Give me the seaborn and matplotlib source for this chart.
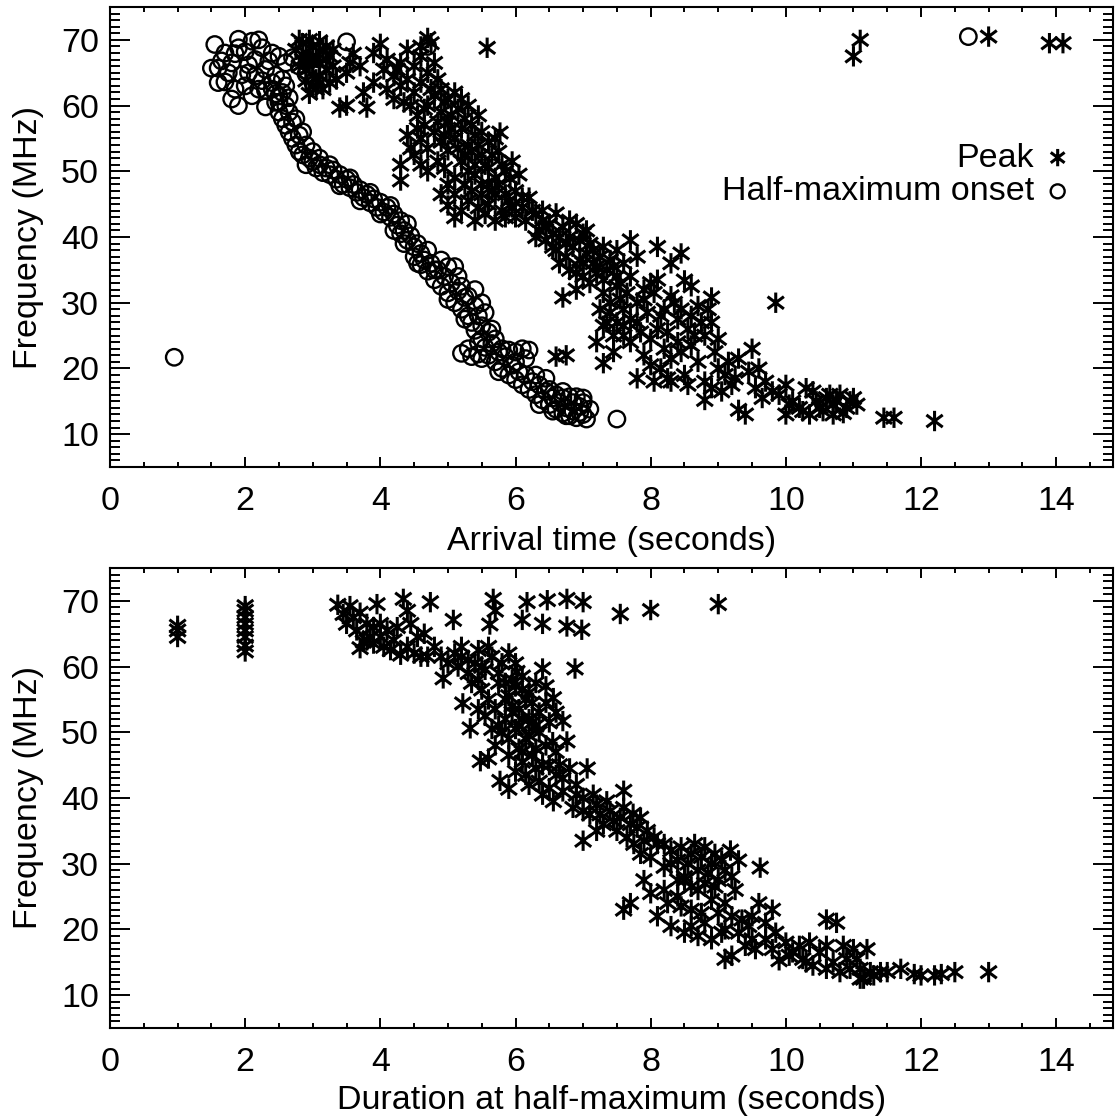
import numpy as np
import pandas as pd
import matplotlib
matplotlib.use("Agg")
import matplotlib.pyplot as plt
from matplotlib.path import Path
from matplotlib.ticker import MultipleLocator
import seaborn as sns

# ---------------- data ----------------
# Top panel: half-maximum onset arrival times (circles)
onset_t = [1.55, 1.6, 1.65, 1.7, 1.75, 1.8, 1.85, 1.9, 1.95, 2.0, 2.05, 2.1, 2.15, 2.2, 2.25, 2.3,
           2.35, 2.4, 2.45, 2.5, 2.55, 2.6, 2.7, 2.8, 1.6, 1.7, 1.8, 1.9, 2.0, 2.1, 2.2, 2.3, 2.4,
           2.5, 1.5, 1.9, 2.15, 2.3, 2.6, 2.9, 3.0, 3.5, 4.7, 1.85, 2.05, 2.25, 2.45, 2.65,
           2.4, 2.45, 2.5, 2.5, 2.55, 2.6, 2.6, 2.65, 2.7, 2.7, 2.75, 2.8, 2.8, 2.85, 2.9, 2.95,
           3.0, 3.05, 3.1, 3.15, 3.2, 3.25, 3.3, 3.35, 3.4, 3.45, 3.5, 3.55, 3.6, 3.65, 3.7, 3.75,
           3.8, 3.85, 3.9, 3.95, 4.0, 4.05, 4.1, 4.15, 4.2, 4.25, 4.3, 4.3, 4.35, 4.4, 4.45, 4.5,
           4.5, 4.55, 4.6, 4.6, 4.65, 4.7, 4.75, 4.8, 4.85, 4.9, 4.95, 5.0, 5.0, 5.05, 5.1, 5.1,
           5.15, 5.2, 5.25, 5.3, 5.3, 5.35, 5.4, 5.4, 5.45, 5.5, 5.5, 5.55, 5.6, 5.6, 5.65, 5.7,
           5.2, 5.3, 5.35, 5.45, 5.75, 5.8, 5.85, 5.9, 5.9, 5.95, 6.0, 6.0, 6.05, 6.1, 6.1, 6.15,
           6.2, 6.2, 6.25, 6.3, 6.35, 6.4, 6.45, 6.5, 6.5, 6.55, 6.6, 6.6, 6.65, 6.7, 6.7, 6.75,
           6.8, 6.8, 6.85, 6.9, 6.9, 6.95, 7.0, 7.0, 7.05, 7.1, 7.5, 0.95, 12.7,
           2.55, 2.65, 2.75, 2.85, 2.9, 3.0, 3.1, 3.25, 3.4, 3.55, 3.7, 3.85, 4.0, 4.15, 4.2,
           4.35, 4.4, 4.55, 4.7, 4.8, 4.9, 5.0, 5.15, 5.2, 5.25, 5.4, 5.45, 5.5, 5.55, 5.65,
           5.7, 5.5, 5.8, 5.75, 6.0, 6.15, 6.3, 6.35, 6.45, 6.55, 6.7, 6.85, 6.75, 6.95, 7.0]
onset_f = [69.3, 63.5, 66.8, 68.0, 65.0, 66.5, 67.9, 70.1, 64.7, 68.2, 66.2, 69.8, 64.5, 70.0, 68.8, 65.5,
           66.8, 68.0, 61.8, 67.5, 64.0, 66.5, 67.3, 66.0, 65.7, 63.6, 61.0, 60.0, 63.0, 61.5, 62.5, 62.3, 63.5,
           60.5, 65.7, 68.8, 67.0, 59.8, 63.0, 64.8, 63.5, 69.7, 69.0, 62.5, 65.0, 63.8, 64.6, 61.2,
           62.5, 60.5, 61.5, 59.0, 58.0, 60.0, 57.0, 56.0, 57.5, 55.0, 54.0, 55.5, 53.0, 52.5, 54.0, 52.0,
           51.5, 50.5, 52.0, 49.8, 50.5, 49.5, 50.2, 48.8, 49.5, 48.0, 48.8, 47.5, 48.0, 46.8, 47.2, 46.0,
           46.5, 45.2, 45.8, 44.5, 45.3, 43.8, 44.5, 43.0, 43.5, 41.8, 42.5, 40.5, 41.0, 39.5, 40.2, 38.5,
           37.0, 39.0, 37.5, 35.8, 36.5, 34.8, 36.0, 33.5, 35.0, 32.5, 34.0, 35.5, 31.5, 33.0, 35.5, 30.0,
           31.8, 29.0, 30.8, 28.0, 31.0, 27.0, 29.5, 25.8, 28.0, 26.5, 24.5, 23.2, 25.5, 22.0, 23.8, 21.0,
           22.3, 23.0, 21.8, 22.2, 22.5, 20.0, 21.8, 19.0, 22.8, 20.5, 18.3, 22.5, 19.5, 17.5, 23.0, 19.0,
           16.8, 22.8, 18.0, 16.0, 17.5, 15.2, 16.5, 14.5, 16.8, 15.5, 13.8, 16.0, 14.8, 13.2, 15.5, 14.0,
           12.8, 15.7, 13.5, 15.7, 12.5, 14.2, 13.0, 15.5, 12.3, 13.8, 12.3, 21.7, 70.5,
           62.0, 59.0, 58.0, 56.0, 51.0, 53.0, 51.0, 51.0, 47.8, 49.0, 45.5, 46.8, 43.5, 44.8, 41.0,
           39.0, 42.0, 36.0, 38.0, 35.0, 36.5, 30.5, 34.0, 32.5, 27.5, 32.0, 24.0, 30.0, 28.5, 26.0,
           24.5, 21.5, 23.0, 19.5, 21.0, 21.5, 19.0, 14.5, 18.5, 13.5, 16.5, 14.8, 12.8, 13.3, 14.8]

# Top panel: peak arrival times (asterisks)
peak_t = [2.75, 2.85, 2.9, 2.95, 3.0, 3.05, 3.1, 3.15, 3.2, 2.8, 2.9, 3.0, 3.1, 3.2, 3.3, 3.0, 3.15,
          3.25, 2.95, 3.35, 3.5, 3.6, 3.55, 3.4, 3.5, 3.8, 3.75, 3.9, 4.0, 3.9, 3.7, 4.1, 4.2, 4.3,
          4.05, 4.3, 4.4, 4.6, 4.7, 4.75, 4.6, 4.8, 4.7, 4.5, 4.35, 4.2, 4.55, 4.7, 4.8, 4.9, 5.0,
          5.1, 5.2, 5.3, 4.9, 5.0, 4.65, 4.8, 4.6, 4.7, 4.5, 4.9, 5.0, 5.1, 5.2, 5.3, 5.4, 5.5, 5.6,
          5.7, 5.77, 5.5, 5.4, 5.3, 5.2, 5.1, 5.6, 5.7, 5.8, 5.92, 5.6, 5.5, 5.3, 5.2, 5.1, 5.45,
          5.6, 5.7, 5.8, 5.9, 6.0, 6.1, 6.0, 6.2, 4.3, 5.58,
          6.3, 6.4, 6.5, 6.6, 6.7, 6.35, 6.45, 6.55, 6.8, 6.9, 7.0, 7.1, 6.6, 6.75, 6.85, 6.95,
          7.05, 7.15, 7.25, 7.3, 7.4, 7.5, 7.2, 7.35, 7.5, 7.6, 7.0, 7.1, 6.7, 6.9, 7.3, 7.5, 7.6,
          7.4, 7.5, 7.3, 7.2, 7.3, 7.45, 7.6, 7.7, 7.8, 7.9, 8.0, 8.1, 7.95, 8.1, 8.2, 8.3, 8.5,
          8.6, 8.9, 8.7, 8.4, 8.55, 8.0, 8.2, 7.9, 8.0, 7.8, 8.3, 8.4, 8.6, 8.7, 8.5, 8.3, 8.8,
          8.9, 9.0, 9.0, 8.8, 8.8, 9.1, 9.2, 9.3, 9.4, 9.5, 9.3, 9.6, 9.7, 9.8, 9.85, 10.0, 10.1,
          10.2, 10.0, 10.3, 10.4, 10.5, 10.6, 10.7, 10.8, 10.7, 10.9, 11.0, 11.05, 10.85, 11.45,
          11.6, 12.2, 6.6, 6.75, 11.1, 11.0, 13.0, 13.9, 14.1, 7.7, 7.8, 8.1, 8.3, 8.45,
          4.1, 4.25, 4.4, 4.5, 4.45, 4.6, 4.75, 4.85, 4.95, 5.05, 5.15, 5.25, 5.35, 5.45, 4.85,
          4.95, 5.05, 5.15, 5.25, 5.35, 5.45, 5.55, 5.65, 5.75, 5.85, 5.95, 6.05, 5.4, 5.5, 5.35,
          5.25, 5.65, 5.75, 5.85, 5.95, 6.1, 6.15, 5.55, 5.4, 5.7, 5.85, 6.25, 6.4, 4.4, 4.55,
          4.65, 4.45, 4.3, 4.6, 4.7, 4.85, 4.95, 5.0, 4.9, 5.1, 5.0,
          6.3, 6.45, 6.55, 6.65, 6.75, 6.8, 6.95, 7.05, 7.15, 6.65, 6.8, 6.9, 7.0, 7.2, 7.3,
          7.45, 7.55, 7.65, 7.7, 7.4, 7.55, 7.25, 7.35, 7.45, 7.6, 7.7, 7.8, 7.85, 7.9, 8.05,
          8.15, 8.25, 8.35, 8.45, 8.6, 8.65, 8.75, 8.85, 8.95, 8.45, 8.15, 8.05, 8.25, 8.55, 8.9,
          9.05, 9.15, 9.25, 9.45, 9.55, 9.65, 9.9, 10.05, 10.25, 10.45, 10.55, 10.65, 10.75, 10.95, 10.35,
          2.8, 2.85, 2.95, 3.05, 3.1, 3.2, 3.25, 2.9, 3.05, 3.3]
peak_f = [68.5, 69.5, 68.0, 70.0, 69.0, 67.5, 69.8, 68.5, 67.0, 66.0, 65.5, 66.5, 64.5, 65.5, 66.0, 63.0, 62.5,
          63.5, 61.8, 64.0, 65.0, 67.9, 66.5, 59.7, 60.0, 59.7, 62.0, 63.5, 69.4, 68.0, 66.0, 67.0, 64.5, 63.0,
          65.5, 66.5, 68.5, 69.0, 70.3, 69.5, 67.5, 66.5, 65.0, 62.0, 60.5, 61.0, 58.5, 60.0, 61.5, 62.5, 61.0,
          62.0, 61.0, 60.0, 59.0, 57.5, 57.0, 56.0, 55.0, 53.5, 52.5, 54.5, 53.2, 55.0, 56.5, 54.0, 55.5, 56.0, 54.5,
          55.0, 55.9, 52.5, 51.0, 50.0, 51.5, 49.0, 50.5, 49.0, 51.0, 48.9, 48.0, 46.5, 45.5, 44.0, 43.0, 44.5,
          45.0, 46.5, 44.0, 45.5, 43.0, 44.5, 47.0, 46.0, 48.6, 68.8,
          43.5, 44.0, 42.0, 43.6, 41.5, 41.0, 39.5, 40.5, 40.0, 42.0, 40.5, 39.0, 38.0, 37.0, 38.5, 36.5,
          37.5, 36.0, 37.0, 38.5, 36.5, 38.0, 34.5, 35.0, 34.0, 36.0, 34.0, 33.0, 30.8, 32.0, 31.5, 32.5, 29.0,
          28.5, 27.0, 26.5, 24.0, 20.8, 22.5, 25.0, 27.5, 30.0, 32.0, 33.0, 33.5, 28.5, 26.0, 29.0, 31.0, 33.4,
          32.5, 30.8, 29.5, 27.5, 26.0, 24.5, 23.0, 22.0, 20.5, 18.5, 21.5, 24.0, 23.5, 21.0, 19.0, 18.0, 25.0,
          27.0, 24.5, 20.0, 18.0, 15.2, 19.0, 17.5, 13.7, 13.0, 23.0, 21.5, 20.0, 18.0, 16.5, 30.0, 17.5, 15.0,
          14.0, 13.0, 17.0, 16.5, 14.0, 15.5, 14.5, 16.0, 13.0, 14.0, 15.5, 14.5, 13.2, 12.5,
          12.5, 12.0, 21.8, 22.0, 70.0, 67.5, 70.5, 69.5, 69.5, 39.5, 37.0, 38.5, 36.0, 37.5,
          62.5, 65.5, 64.0, 66.0, 60.0, 63.5, 62.5, 64.0, 60.5, 58.5, 59.5, 58.0, 57.0, 58.5, 57.5,
          55.5, 56.5, 53.5, 52.5, 53.0, 54.0, 51.0, 52.5, 53.0, 50.0, 51.5, 49.5, 49.5, 48.0, 47.0,
          48.0, 47.0, 48.0, 46.5, 44.5, 46.0, 42.5, 43.5, 42.5, 42.5, 43.0, 44.0, 42.5, 55.5, 56.5,
          59.5, 53.5, 51.0, 51.0, 50.0, 51.5, 50.5, 48.0, 46.5, 46.5, 44.8,
          40.0, 41.5, 38.5, 40.0, 39.0, 42.5, 39.5, 41.0, 38.0, 36.0, 35.0, 34.5, 36.0, 35.5, 33.5,
          35.5, 33.0, 31.5, 34.0, 30.0, 30.5, 29.0, 27.0, 25.0, 26.5, 24.0, 27.0, 25.5, 30.5, 31.5,
          28.0, 25.5, 30.0, 29.0, 28.0, 25.0, 27.0, 29.0, 22.5, 22.5, 20.0, 18.0, 18.5, 17.5, 17.0,
          16.5, 21.0, 18.5, 19.5, 17.0, 15.5, 16.0, 14.5, 13.5, 15.0, 13.5, 16.0, 15.0, 15.0, 13.0,
          70.0, 67.0, 66.8, 64.0, 66.5, 69.0, 67.5, 63.8, 62.5, 68.5]

# Bottom panel: duration at half-maximum (asterisks)
dur_t = [1.0, 1.0, 1.0, 2.0, 2.0, 2.0, 2.0, 2.0, 2.0, 2.0, 2.0,
         3.37, 3.45, 3.55, 3.6, 3.7, 3.8, 3.75, 3.7, 3.85, 3.9, 3.95, 4.0, 4.05, 4.1, 4.2, 4.3, 4.34,
         4.4, 4.45, 4.5, 4.6, 4.74, 4.65, 4.8, 4.9, 4.93, 5.0, 5.08, 5.1, 5.15, 5.2, 5.22, 5.3, 5.35,
         5.4, 5.45, 5.5, 5.55, 5.62, 5.67, 5.7, 5.6, 5.6, 5.7, 5.75, 5.8, 5.85, 5.9, 5.95, 6.02, 6.1,
         6.17, 6.0, 6.05, 6.1, 6.15, 6.2, 6.25, 6.3, 6.35, 6.4, 6.4, 6.47, 6.45, 6.56, 6.5, 6.55, 6.6,
         6.7, 6.76, 6.76, 6.76, 6.88, 6.98, 7.0, 5.33, 5.48, 5.6, 5.77, 5.9, 5.7, 5.8, 5.9, 6.0, 6.1,
         6.2, 6.3, 6.4, 6.56, 6.7, 6.8, 7.06, 6.9, 6.85, 7.0, 7.1, 7.2, 7.3, 7.4, 7.5, 7.6, 7.55, 7.65,
         7.74, 7.8, 7.55, 8.0, 9.0, 7.0, 7.2, 7.9, 8.0, 8.1, 8.2, 8.3, 8.4, 8.5, 8.6, 8.7, 8.8, 8.9,
         9.0, 9.18, 9.1, 9.3, 9.62, 8.2, 8.4, 8.5, 8.6, 8.7, 8.8, 8.9, 9.0, 8.0, 7.9, 8.1, 8.3, 8.5,
         8.7, 7.6, 7.7, 8.9, 9.1, 9.2, 9.1, 9.3, 9.4, 9.5, 9.6, 9.7, 9.8, 9.9, 10.0, 10.1, 10.2, 10.3,
         10.4, 10.5, 10.6, 10.6, 10.75, 10.8, 10.9, 11.0, 11.1, 11.2, 11.15, 11.3, 11.4, 11.5, 11.7,
         11.9, 12.0, 12.2, 12.3, 12.5, 13.0, 9.5, 9.8, 5.95, 6.05, 6.15, 6.25, 6.0, 6.1,
         5.2, 5.3, 5.45, 5.5, 5.65, 5.75, 5.85, 5.9, 6.0, 6.1, 6.2, 6.3, 6.35, 6.45, 6.5,
         6.6, 6.3, 6.2, 6.1, 5.95, 5.85, 5.75, 5.65, 5.55, 5.45, 5.9, 6.05, 6.25, 6.4, 6.45,
         6.6, 6.65, 6.7, 6.35, 6.15, 6.5, 6.9, 7.0, 7.15, 7.25, 7.35, 7.45, 7.6, 7.7, 7.85,
         7.95, 7.75, 7.85, 8.05, 8.2, 8.3, 8.45, 8.55, 8.65, 8.75, 8.85, 8.95, 9.05, 9.2, 9.25,
         8.4, 8.6, 8.8, 8.95, 9.1, 8.25, 8.45, 8.6, 8.75, 9.05, 9.2, 9.35, 9.45, 9.55, 9.7,
         9.85, 10.05, 10.25, 10.35, 10.6, 10.7, 10.85, 10.95, 11.05, 11.25, 11.1,
         3.5, 3.65, 3.8, 3.9, 4.0, 4.15, 4.25, 4.4, 4.55, 4.7]
dur_f = [64.5, 65.5, 66.2, 62.3, 63.2, 64.5, 65.5, 66.5, 67.5, 68.5, 69.2,
         69.4, 68.0, 69.2, 67.5, 68.2, 66.5, 63.8, 62.8, 64.5, 66.0, 69.5, 64.5, 63.0, 65.5, 64.0, 61.8, 70.3,
         68.5, 66.5, 62.0, 61.5, 69.8, 65.0, 63.0, 61.5, 58.2, 60.5, 67.1, 62.0, 60.0, 61.5, 54.4, 59.0, 57.5,
         60.5, 58.0, 56.5, 59.5, 66.4, 70.3, 68.5, 63.0, 55.0, 53.5, 57.5, 60.5, 52.0, 55.5, 58.0, 59.2, 67.1,
         69.8, 50.5, 53.5, 56.5, 49.0, 52.0, 54.5, 47.5, 50.0, 59.7, 66.5, 70.1, 57.0, 55.2, 45.0, 48.5, 43.5,
         51.7, 48.6, 66.1, 70.3, 59.7, 65.6, 69.8, 50.6, 45.6, 46.0, 42.6, 41.4, 48.0, 50.0, 46.5, 44.0, 47.0,
         42.0, 44.5, 40.5, 39.5, 41.0, 44.5, 44.5, 42.0, 38.5, 40.0, 37.5, 39.0, 36.0, 38.0, 35.0, 41.1, 37.0, 34.0,
         37.6, 35.5, 68.0, 68.6, 69.5, 33.5, 35.0, 33.5, 31.0, 33.0, 29.5, 32.0, 30.5, 28.0, 31.5, 29.0, 32.5, 30.0,
         27.5, 32.0, 29.0, 30.5, 29.4, 26.0, 25.0, 27.5, 23.0, 26.0, 21.0, 24.5, 22.5, 25.5, 27.5, 22.0, 20.5, 19.5,
         19.0, 23.0, 24.0, 18.5, 20.0, 16.0, 15.5, 19.5, 17.5, 18.5, 24.0, 21.0, 17.0, 15.3, 18.0, 16.5, 17.5, 15.0,
         14.5, 16.5, 14.0, 21.5, 21.0, 13.5, 15.5, 17.0, 14.0, 17.0, 12.5, 13.0, 13.5, 13.5, 14.0,
         13.2, 13.0, 13.0, 13.2, 13.5, 13.5, 22.0, 23.0, 53.0, 51.0, 55.0, 51.5, 57.0, 45.5,
         63.0, 61.0, 62.5, 60.0, 61.5, 59.0, 57.5, 62.0, 60.5, 58.5, 56.0, 57.5, 53.0, 54.5, 51.5,
         53.0, 51.0, 49.5, 52.0, 54.0, 55.0, 51.0, 50.5, 52.5, 53.5, 49.0, 47.5, 46.5, 45.0, 48.0,
         47.0, 45.0, 43.0, 42.5, 43.5, 41.5, 40.5, 38.0, 40.5, 37.5, 39.5, 36.5, 38.5, 36.0, 37.0,
         35.0, 33.0, 31.5, 34.0, 33.0, 30.0, 32.5, 30.0, 33.0, 31.0, 28.5, 31.5, 30.5, 28.0, 26.0,
         27.5, 26.5, 27.0, 26.5, 24.0, 24.0, 23.5, 20.5, 22.5, 19.5, 22.0, 21.5, 20.5, 17.0, 18.5,
         19.5, 16.0, 15.5, 18.0, 17.5, 15.0, 17.5, 14.0, 15.5, 13.5, 12.5,
         66.5, 65.5, 64.0, 63.5, 66.5, 62.5, 66.0, 63.0, 64.5, 61.5]

x_ticks = [0, 2, 4, 6, 8, 10, 12, 14]
y_ticks = [10, 20, 30, 40, 50, 60, 70]

top_df = pd.DataFrame({"t": peak_t, "f": peak_f})
onset_df = pd.DataFrame({"t": onset_t, "f": onset_f})
dur_df = pd.DataFrame({"t": dur_t, "f": dur_f})

# ---------------- style ----------------
sns.set_theme(style="ticks")
plt.rcParams["font.family"] = ["Liberation Sans", "DejaVu Sans"]
for k in ("text.color", "axes.labelcolor", "xtick.color", "ytick.color", "axes.edgecolor"):
    plt.rcParams[k] = "black"
plt.rcParams["axes.linewidth"] = 1.5

ast = Path([(0, -1), (0, 1), (-0.8, -0.6), (0.8, 0.6), (-0.8, 0.6), (0.8, -0.6)],
           [Path.MOVETO, Path.LINETO, Path.MOVETO, Path.LINETO, Path.MOVETO, Path.LINETO])

FS = 24.5
fig = plt.figure(figsize=(11.17, 11.17), dpi=100)
ax1 = fig.add_axes([0.0985, 0.5819, 0.8979, 0.4118])
ax2 = fig.add_axes([0.0985, 0.0797, 0.8979, 0.4118])

sns.scatterplot(data=top_df, x="t", y="f", ax=ax1, marker=ast, s=215, color="black",
                facecolor="none", edgecolor="black", linewidth=2.2, label="Peak")
sns.scatterplot(data=onset_df, x="t", y="f", ax=ax1, marker="o", s=140, color="black",
                facecolor="none", edgecolor="black", linewidth=1.7, label="Half-maximum onset")
sns.scatterplot(data=dur_df, x="t", y="f", ax=ax2, marker=ast, s=215, color="black",
                facecolor="none", edgecolor="black", linewidth=2.2, legend=False)

for ax in (ax1, ax2):
    ax.set_xlim(0, 14.84)
    ax.set_ylim(5, 75)
    ax.set_xticks(x_ticks)
    ax.set_yticks(y_ticks)
    ax.xaxis.set_minor_locator(MultipleLocator(0.5))
    ax.yaxis.set_minor_locator(MultipleLocator(1))
    ax.tick_params(axis="both", which="both", direction="in", top=True, right=True,
                   labelsize=FS, color="black", labelcolor="black", width=1.4)
    ax.tick_params(axis="x", which="major", length=7, pad=14)
    ax.tick_params(axis="x", which="minor", length=3.5)
    ax.tick_params(axis="y", which="major", length=14.5, pad=8)
    ax.tick_params(axis="y", which="minor", length=7.2)
    for sp in ax.spines.values():
        sp.set_visible(True)
        sp.set_color("black")
        sp.set_linewidth(1.5)
    ax.set_ylabel("Frequency (MHz)", fontsize=FS, labelpad=12)

ax1.set_xlabel("Arrival time (seconds)", fontsize=FS, labelpad=6)
ax2.set_xlabel("Duration at half-maximum (seconds)", fontsize=FS, labelpad=5)

h, l = ax1.get_legend_handles_labels()
leg = ax1.legend(h, l, loc="upper right", bbox_to_anchor=(0.972, 0.735), frameon=False,
                 markerfirst=False, fontsize=FS, markerscale=0.85, handletextpad=0.3,
                 labelspacing=0.08, borderaxespad=0, handlelength=0.8)

fig.savefig("out.png", dpi=100)
